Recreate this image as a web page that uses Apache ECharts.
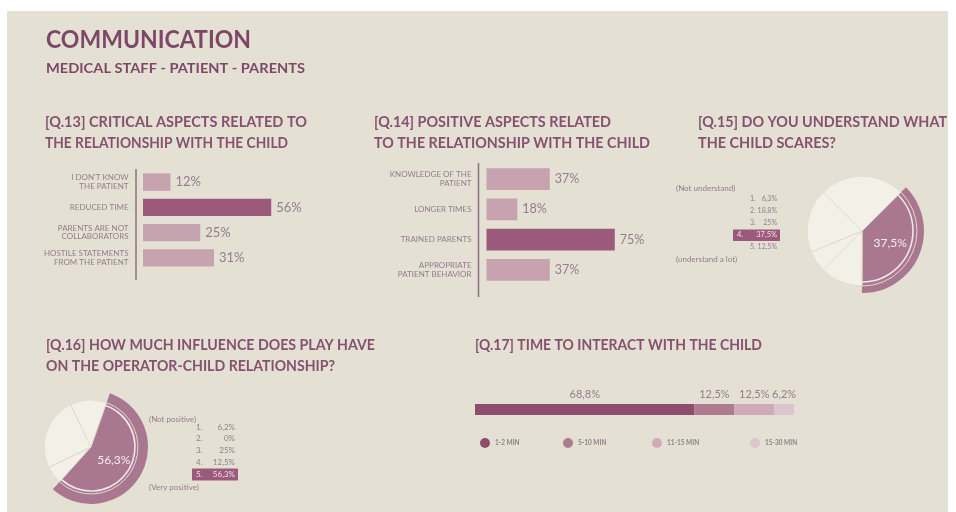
<!DOCTYPE html>
<html><head><meta charset="utf-8">
<script src="https://cdn.jsdelivr.net/npm/echarts@6/dist/echarts.min.js"></script>
<style>
html,body{margin:0;padding:0;background:#fff;}
#bg{position:absolute;left:7px;top:11px;width:941px;height:501px;background:#e4e0d4;}
#main{position:absolute;left:0;top:0;width:956px;height:512px;}
</style></head><body><div id="bg"></div><div id="main"></div>
<script>
// ---- data ----
const q13Categories = ["I DON'T KNOW\nTHE PATIENT", "REDUCED TIME", "PARENTS ARE NOT\nCOLLABORATORS", "HOSTILE STATEMENTS\nFROM THE PATIENT"];
const q13Values = [12, 56, 25, 31];
const q14Categories = ["KNOWLEDGE OF THE\nPATIENT", "LONGER TIMES", "TRAINED PARENTS", "APPROPRIATE\nPATIENT BEHAVIOR"];
const q14Values = [37, 18, 75, 37];
const q15Labels = ['1.', '2.', '3.', '4.', '5.'];
const q15Values = [6.3, 18.8, 25, 37.5, 12.5];
const q15Highlight = 3;
const q16Labels = ['1.', '2.', '3.', '4.', '5.'];
const q16Values = [6.2, 0, 25, 12.5, 56.3];
const q16Highlight = 4;
const q17Categories = ['1-2 MIN', '5-10 MIN', '11-15 MIN', '15-30 MIN'];
const q17Values = [68.8, 12.5, 12.5, 6.2];

// ---- style ----
const TITLE = '#7d4868';
const QTITLE = '#86516f';
const TXT = '#957c8a';
const DARK = '#9b5a7b';
const LIGHT = '#c7a2af';
const CREAM = '#f3f0e8';
const PIEHL = '#a97890';
const ARC = '#f3e4ea';
const FF = 'Lato, "Open Sans", sans-serif';
const fmt = v => String(v).replace('.', ',') + '%';

const cv = document.createElement('canvas').getContext('2d');
function fitText(text, x, y, font, width, fill) {
  cv.font = font;
  const w = cv.measureText(text).width;
  return { type: 'text', x: x, y: y, scaleX: width / w, silent: true,
    style: { x: 0, y: 0, text: text, font: font, fill: fill,
      textAlign: 'left', textVerticalAlign: 'middle', align: 'left', verticalAlign: 'middle' } };
}
function txt(text, x, y, size, fill, align, weight) {
  return { type: 'text', x: x, y: y, silent: true, z: 10,
    style: { text: text, font: (weight || 'normal') + ' ' + size + 'px ' + FF, fill: fill,
      textAlign: align || 'left', textVerticalAlign: 'middle', align: align || 'left', verticalAlign: 'middle' } };
}

const graphics = [
  fitText('COMMUNICATION', 46, 39.5, 'bold 25px Lato', 205, TITLE),
  fitText('MEDICAL STAFF - PATIENT - PARENTS', 46, 68.5, 'bold 14px Lato', 259, TITLE),
  fitText('[Q.13] CRITICAL ASPECTS RELATED TO', 45, 122, 'bold 15px Lato', 262, QTITLE),
  fitText('THE RELATIONSHIP WITH THE CHILD', 45, 143.5, 'bold 15px Lato', 243, QTITLE),
  fitText('[Q.14] POSITIVE ASPECTS RELATED', 374, 122, 'bold 15px Lato', 237, QTITLE),
  fitText('TO THE RELATIONSHIP WITH THE CHILD', 374, 143.5, 'bold 15px Lato', 276, QTITLE),
  fitText('[Q.15] DO YOU UNDERSTAND WHAT', 698, 122, 'bold 15px Lato', 249, QTITLE),
  fitText('THE CHILD SCARES?', 698, 143.5, 'bold 15px Lato', 138, QTITLE),
  fitText('[Q.16] HOW MUCH INFLUENCE DOES PLAY HAVE', 46, 345, 'bold 15px Lato', 329, QTITLE),
  fitText('ON THE OPERATOR-CHILD RELATIONSHIP?', 46, 366, 'bold 15px Lato', 289, QTITLE),
  fitText('[Q.17] TIME TO INTERACT WITH THE CHILD', 475, 345, 'bold 15px Lato', 287, QTITLE),
  // bar-chart axis lines
  { type: 'line', silent: true, shape: { x1: 136, y1: 169, x2: 136, y2: 280 }, style: { stroke: '#8e7282', lineWidth: 1.5 } },
  { type: 'line', silent: true, shape: { x1: 478.5, y1: 163, x2: 478.5, y2: 297 }, style: { stroke: '#8e7282', lineWidth: 1.5 } },
  // Q15 legend
  txt('(Not understand)', 676, 188, 8, TXT),
  txt('(understand a lot)', 676, 259, 8, TXT),
  { type: 'rect', silent: true, shape: { x: 733, y: 229.5, width: 47, height: 11.5 }, style: { fill: DARK } },
  // Q16 legend
  txt('(Not positive)', 149, 419, 8, TXT),
  txt('(Very positive)', 149, 487, 8, TXT),
  { type: 'rect', silent: true, shape: { x: 192, y: 468.5, width: 46, height: 12 }, style: { fill: DARK } }
];
q15Values.forEach((v, i) => {
  const y = 199 + i * 12;
  const hl = i === q15Highlight;
  const c = hl ? '#f2dfe7' : TXT;
  graphics.push(txt(q15Labels[i], hl ? 737 : 750, y, hl ? 7.5 : 7, c));
  graphics.push(txt(fmt(v), 777, y, hl ? 7.5 : 7, c, 'right'));
});
q16Values.forEach((v, i) => {
  const y = 427 + i * 11.8;
  const c = i === q16Highlight ? '#f2dfe7' : TXT;
  graphics.push(txt(q16Labels[i], 196, y, 8, c));
  graphics.push(txt(fmt(v), 235, y, 8, c, 'right'));
});

function barData(vals) {
  const mx = Math.max(...vals);
  return vals.map(v => ({ value: v, itemStyle: { color: v === mx ? DARK : LIGHT } }));
}
function pieSeries(center, vals, hl, rBase, rHigh, rArc, startAngle) {
  const base = vals.map((v, i) => ({ value: v, itemStyle: { color: i === hl ? PIEHL : CREAM },
    label: { show: i === hl } }));
  const high = vals.map((v, i) => ({ value: v, itemStyle: { color: i === hl ? PIEHL : 'rgba(0,0,0,0)', borderWidth: 0 } }));
  const arc = vals.map((v, i) => ({ value: v, itemStyle: { color: i === hl ? ARC : 'rgba(0,0,0,0)', borderWidth: 0 } }));
  const common = { type: 'pie', center: center, startAngle: startAngle, clockwise: true, silent: true,
    animation: false, labelLine: { show: false }, avoidLabelOverlap: false, emphasis: { disabled: true } };
  return [
    Object.assign({}, common, { radius: [0, rHigh], z: 2, data: high, label: { show: false } }),
    Object.assign({}, common, { radius: [0, rBase], z: 3, data: base,
      itemStyle: { borderColor: '#e0dbcf', borderWidth: 1 },
      label: { show: false, position: 'inside', formatter: p => fmt(p.value), color: '#f6ecf0', fontSize: 12, fontFamily: FF } }),
    Object.assign({}, common, { radius: [rArc - 0.8, rArc + 0.8], z: 4, data: arc, label: { show: false } })
  ];
}

const q17Colors = ['#8f4d6d', '#ae7b91', '#cfabb8', '#dcc5cc'];
const legendX = [475, 558, 647, 745];

const option = {
  backgroundColor: 'transparent',
  animation: false,
  textStyle: { fontFamily: FF },
  graphic: graphics,
  grid: [
    { left: 143, top: 169.5, width: 229, height: 101 },
    { left: 486.5, top: 164, width: 171, height: 121 },
    { left: 475, top: 404, width: 319, height: 11 }
  ],
  xAxis: [
    { type: 'value', gridIndex: 0, min: 0, max: 100, show: false },
    { type: 'value', gridIndex: 1, min: 0, max: 100, show: false },
    { type: 'value', gridIndex: 2, min: 0, max: 100, show: false }
  ],
  yAxis: [
    { type: 'category', gridIndex: 0, inverse: true, data: q13Categories,
      axisLine: { show: false }, axisTick: { show: false },
      axisLabel: { margin: 14.5, fontSize: 8, lineHeight: 8.5, color: TXT, fontFamily: FF } },
    { type: 'category', gridIndex: 1, inverse: true, data: q14Categories,
      axisLine: { show: false }, axisTick: { show: false },
      axisLabel: { margin: 15, fontSize: 8, lineHeight: 8.5, color: TXT, fontFamily: FF } },
    { type: 'category', gridIndex: 2, data: ['Q17'], show: false }
  ],
  legend: q17Categories.map((n, i) => ({
    data: [n], left: legendX[i], top: 433, itemWidth: 10, itemHeight: 10, icon: 'circle', itemGap: 4,
    selectedMode: false, textStyle: { fontSize: 6.5, fontWeight: 'bold', color: TXT, fontFamily: FF }
  })),
  series: [
    { type: 'bar', xAxisIndex: 0, yAxisIndex: 0, data: barData(q13Values), barCategoryGap: '31%', silent: true,
      label: { show: true, position: 'right', distance: 5, formatter: '{c}%', fontSize: 13, color: TXT, fontFamily: FF } },
    { type: 'bar', xAxisIndex: 1, yAxisIndex: 1, data: barData(q14Values), barCategoryGap: '28%', silent: true,
      label: { show: true, position: 'right', distance: 5, formatter: '{c}%', fontSize: 12.5, color: TXT, fontFamily: FF } }
  ].concat(q17Categories.map((n, i) => ({
    type: 'bar', name: n, xAxisIndex: 2, yAxisIndex: 2, stack: 'q17', barWidth: 11, silent: true,
    itemStyle: { color: q17Colors[i] }, data: [q17Values[i]],
    label: { show: true, position: 'top', distance: 4, formatter: p => fmt(p.value), fontSize: 11, color: TXT, fontFamily: FF }
  })))
  .concat(pieSeries([862, 231], q15Values, q15Highlight, 55, 62, 51, 225))
  .concat(pieSeries([91, 447], q16Values, q16Highlight, 47, 57, 44, 228))
};

const chart = echarts.init(document.getElementById('main'), null, { renderer: 'canvas' });
chart.setOption(option);
</script></body></html>
